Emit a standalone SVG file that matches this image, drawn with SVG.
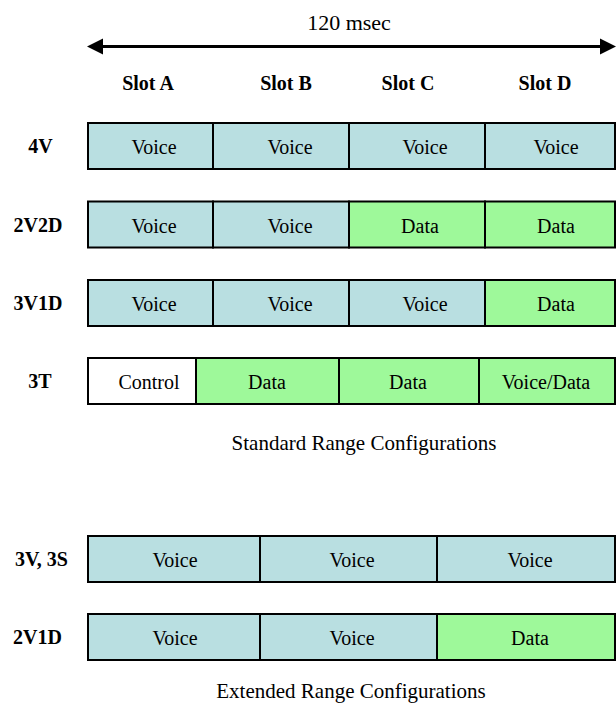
<svg xmlns="http://www.w3.org/2000/svg" width="616" height="707" viewBox="0 0 616 707" font-family="'Liberation Serif', 'DejaVu Serif', serif">
<style>
text{font-family:'Liberation Serif','DejaVu Serif',serif;fill:#000}
.t{font-size:20px;text-anchor:middle}
.cap{font-size:21px;text-anchor:middle}
.b{font-size:20px;font-weight:bold;text-anchor:middle}
.v{fill:#B9DFE1;stroke:#000;stroke-width:2}
.d{fill:#9EF99A;stroke:#000;stroke-width:2}
.c{fill:#FFFFFF;stroke:#000;stroke-width:2}
</style>
<rect width="616" height="707" fill="#fff"/>
<g id="connectors">
<line x1="100" y1="46.5" x2="600" y2="46.5" stroke="#000" stroke-width="3"/>
<polygon points="87,46.5 103,38.5 103,54.5" fill="#000"/>
<polygon points="616,46.5 600,38.5 600,54.5" fill="#000"/>
</g>
<g id="header">
<text x="349" y="30" font-size="22" text-anchor="middle">120 msec</text>
<text class="b" x="148" y="90">Slot A</text>
<text class="b" x="286" y="90">Slot B</text>
<text class="b" x="408" y="90">Slot C</text>
<text class="b" x="545" y="90">Slot D</text>
</g>
<g id="row-4V">
<text class="b" x="40.5" y="153">4V</text>
<rect class="v" x="88" y="123" width="125" height="46"/>
<rect class="v" x="213" y="123" width="136" height="46"/>
<rect class="v" x="349" y="123" width="136" height="46"/>
<rect class="v" x="485" y="123" width="130" height="46"/>
<text class="t" x="154" y="154">Voice</text>
<text class="t" x="290" y="154">Voice</text>
<text class="t" x="425" y="154">Voice</text>
<text class="t" x="556" y="154">Voice</text>
</g>
<g id="row-2V2D">
<text class="b" x="38" y="231.5">2V2D</text>
<rect class="v" x="88" y="201.5" width="125" height="46"/>
<rect class="v" x="213" y="201.5" width="136" height="46"/>
<rect class="d" x="349" y="201.5" width="136" height="46"/>
<rect class="d" x="485" y="201.5" width="130" height="46"/>
<text class="t" x="154" y="232.5">Voice</text>
<text class="t" x="290" y="232.5">Voice</text>
<text class="t" x="420" y="232.5">Data</text>
<text class="t" x="556" y="232.5">Data</text>
</g>
<g id="row-3V1D">
<text class="b" x="38" y="310">3V1D</text>
<rect class="v" x="88" y="280" width="125" height="46"/>
<rect class="v" x="213" y="280" width="136" height="46"/>
<rect class="v" x="349" y="280" width="136" height="46"/>
<rect class="d" x="485" y="280" width="130" height="46"/>
<text class="t" x="154" y="311">Voice</text>
<text class="t" x="290" y="311">Voice</text>
<text class="t" x="425" y="311">Voice</text>
<text class="t" x="556" y="311">Data</text>
</g>
<g id="row-3T">
<text class="b" x="40" y="388">3T</text>
<rect class="c" x="88" y="358" width="108" height="46"/>
<rect class="d" x="196" y="358" width="143" height="46"/>
<rect class="d" x="339" y="358" width="140" height="46"/>
<rect class="d" x="479" y="358" width="136" height="46"/>
<text class="t" x="149" y="389">Control</text>
<text class="t" x="267" y="389">Data</text>
<text class="t" x="408" y="389">Data</text>
<text class="t" x="546" y="389">Voice/Data</text>
</g>
<text class="cap" x="364" y="450">Standard Range Configurations</text>
<g id="row-3V3S">
<text class="b" x="41.5" y="566">3V, 3S</text>
<rect class="v" x="88" y="536" width="172" height="46"/>
<rect class="v" x="260" y="536" width="177" height="46"/>
<rect class="v" x="437" y="536" width="178" height="46"/>
<text class="t" x="175" y="567">Voice</text>
<text class="t" x="352" y="567">Voice</text>
<text class="t" x="530" y="567">Voice</text>
</g>
<g id="row-2V1D">
<text class="b" x="37.5" y="644">2V1D</text>
<rect class="v" x="88" y="614" width="172" height="46"/>
<rect class="v" x="260" y="614" width="177" height="46"/>
<rect class="d" x="437" y="614" width="178" height="46"/>
<text class="t" x="175" y="645">Voice</text>
<text class="t" x="352" y="645">Voice</text>
<text class="t" x="530" y="645">Data</text>
</g>
<text class="cap" x="351" y="698">Extended Range Configurations</text>
</svg>
